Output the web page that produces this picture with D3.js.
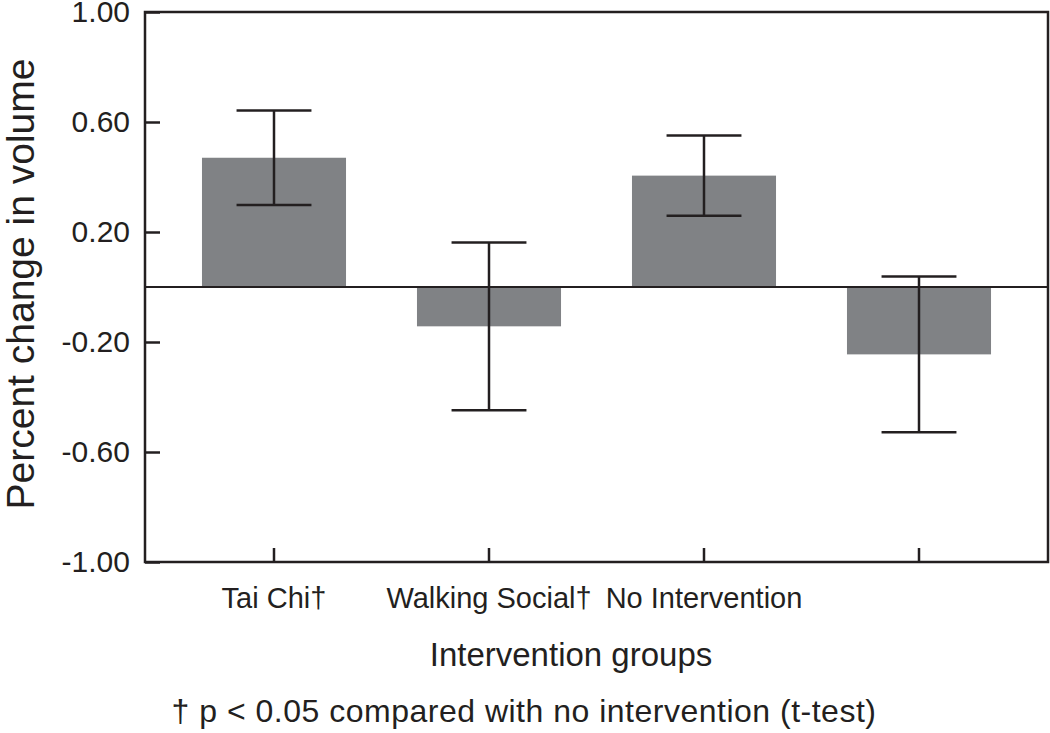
<!DOCTYPE html>
<html>
<head>
<meta charset="utf-8">
<script src="https://cdn.jsdelivr.net/npm/d3@7"></script>
<style>
  html, body { margin: 0; padding: 0; background: #fff; }
  svg { display: block; font-family: "Liberation Sans", Arial, Helvetica, sans-serif; }
</style>
</head>
<body>
<svg id="chart" width="1050" height="733"></svg>
<script>
// ---- data ----
const categories = ["Tai Chi†", "Walking Social†", "No Intervention", ""];
const means = [0.47, -0.143, 0.405, -0.245];
const errors = [0.172, 0.305, 0.146, 0.283];
const yTicks = [1.00, 0.60, 0.20, -0.20, -0.60, -1.00];
const yTitle = "Percent change in volume";
const xTitle = "Intervention groups";
const footnote = "† p < 0.05 compared with no intervention (t-test)";

// ---- layout ----
const W = 1050, H = 733;
const margin = { top: 12, right: 2, bottom: 171, left: 145 };
const ink = "#231f20";
const barColor = "#808285";

const svg = d3.select("#chart");
const idx = d3.range(categories.length);

const x = d3.scaleBand()
  .domain(idx)
  .range([margin.left, W - margin.right])
  .paddingInner(0.33)
  .paddingOuter(0.265);

const y = d3.scaleLinear()
  .domain([-1, 1])
  .range([H - margin.bottom, margin.top]);

// bars
svg.append("g").selectAll("rect")
  .data(idx)
  .join("rect")
  .attr("x", i => x(i))
  .attr("width", x.bandwidth())
  .attr("y", i => y(Math.max(0, means[i])))
  .attr("height", i => Math.abs(y(means[i]) - y(0)))
  .attr("fill", barColor);

// zero line
svg.append("line")
  .attr("x1", x.range()[0]).attr("x2", x.range()[1])
  .attr("y1", y(0)).attr("y2", y(0))
  .attr("stroke", ink).attr("stroke-width", 2.2);

// error bars
const capHalf = x.bandwidth() * 0.26;
const eb = svg.append("g").attr("stroke", ink).attr("stroke-width", 2.5);
idx.forEach(i => {
  const cx = x(i) + x.bandwidth() / 2;
  const hi = y(means[i] + errors[i]);
  const lo = y(means[i] - errors[i]);
  eb.append("line").attr("x1", cx).attr("x2", cx).attr("y1", hi).attr("y2", lo);
  eb.append("line").attr("x1", cx - capHalf).attr("x2", cx + capHalf).attr("y1", hi).attr("y2", hi);
  eb.append("line").attr("x1", cx - capHalf).attr("x2", cx + capHalf).attr("y1", lo).attr("y2", lo);
});

// y axis
const yAxis = svg.append("g")
  .attr("transform", `translate(${margin.left},0)`)
  .call(d3.axisLeft(y).tickValues(yTicks).tickSize(-15).tickSizeOuter(0).tickPadding(15)
    .tickFormat(d => d.toFixed(2)));
yAxis.select(".domain").remove();
yAxis.selectAll("line").attr("stroke", ink).attr("stroke-width", 2.5);
yAxis.selectAll("text").attr("fill", ink).style("font-size", "30px");

// x axis
const xAxis = svg.append("g")
  .attr("transform", `translate(0,${H - margin.bottom})`)
  .call(d3.axisBottom(x).tickSize(-14).tickSizeOuter(0).tickPadding(25)
    .tickFormat(i => categories[i]));
xAxis.select(".domain").remove();
xAxis.selectAll("line").attr("stroke", ink).attr("stroke-width", 2.5);
xAxis.selectAll("text").attr("fill", ink).style("font-size", "29px");

// frame
svg.append("rect")
  .attr("x", margin.left).attr("y", margin.top)
  .attr("width", W - margin.right - margin.left)
  .attr("height", H - margin.bottom - margin.top)
  .attr("fill", "none").attr("stroke", ink).attr("stroke-width", 2.5);

// y title
svg.append("text")
  .attr("transform", `translate(34,${(margin.top + H - margin.bottom) / 2 - 3}) rotate(-90)`)
  .attr("text-anchor", "middle")
  .attr("fill", ink)
  .style("font-size", "39px")
  .text(yTitle);

// x title
svg.append("text")
  .attr("x", 571).attr("y", 666)
  .attr("text-anchor", "middle")
  .attr("fill", ink)
  .style("font-size", "33px")
  .text(xTitle);

// footnote
svg.append("text")
  .attr("x", 524).attr("y", 722)
  .attr("text-anchor", "middle")
  .attr("fill", ink)
  .style("font-size", "32px")
  .style("letter-spacing", "0.5px")
  .text(footnote);
</script>
</body>
</html>
